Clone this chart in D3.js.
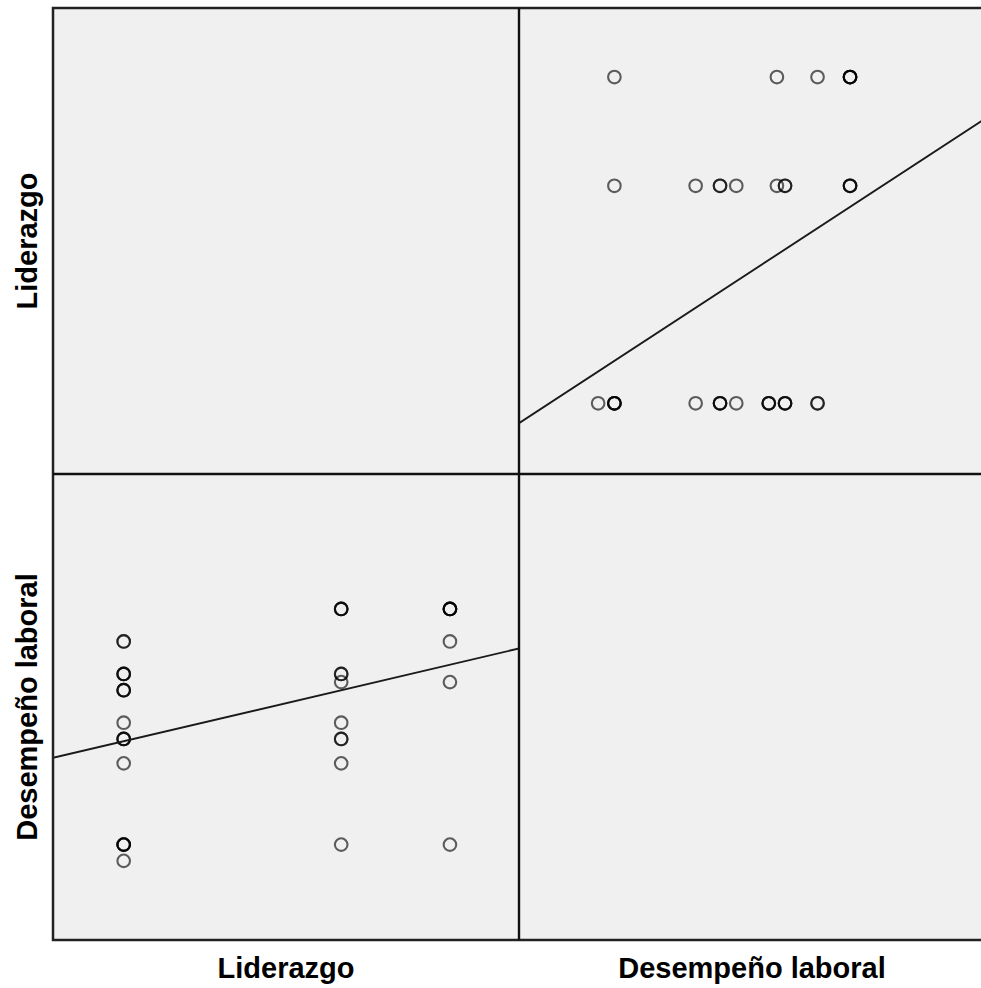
<!DOCTYPE html>
<html>
<head>
<meta charset="utf-8">
<script src="https://cdn.jsdelivr.net/npm/d3@7"></script>
<style>
body { margin: 0; background: #fff; }
svg { display: block; }
</style>
</head>
<body>
<svg id="chart" width="981" height="988"></svg>
<script>
// variables of the matrix, in row/column order
var variables = ["Liderazgo", "Desempeño laboral"];

// paired observations (one entry per person)
var liderazgo = [1, 1, 1, 1, 1, 1, 1, 1, 1, 1, 1, 1, 1, 1, 1, 1, 1, 1,
	3, 3, 3, 3, 3, 3, 3, 3, 3, 3, 3,
	4, 4, 4, 4, 4, 4, 4];
var desempeno = [56, 56, 52, 52, 52, 50, 50, 50, 46, 44, 44, 44, 41, 31, 31, 31, 31, 29,
	60, 60, 60, 52, 52, 51, 46, 44, 44, 41, 31,
	60, 60, 60, 60, 56, 51, 31];

// axis ranges of each variable
var liderazgoDomain = [0.35, 4.635];
var desempenoDomain = [19.26, 76.61];

var svg = d3.select("#chart"),
	margin = {top: 8, left: 53},
	size = 466;

var values = [liderazgo, desempeno];
var scales = [
	d3.scaleLinear().domain(liderazgoDomain).range([0, size]),
	d3.scaleLinear().domain(desempenoDomain).range([0, size])
];

function linreg(xs, ys) {
	var mx = d3.mean(xs), my = d3.mean(ys);
	var sxy = d3.sum(xs, (x, i) => (x - mx) * (ys[i] - my));
	var sxx = d3.sum(xs, x => (x - mx) * (x - mx));
	var b = sxy / sxx;
	return {a: my - b * mx, b: b};
}

svg.append("defs").append("clipPath")
	.attr("id", "cell-clip")
	.append("rect")
	.attr("width", size)
	.attr("height", size);

var cells = [];
variables.forEach((rv, i) => variables.forEach((cv, j) => cells.push({row: i, col: j})));

var cell = svg.selectAll("g.cell")
	.data(cells)
	.enter().append("g")
	.attr("class", "cell")
	.attr("transform", d => `translate(${margin.left + d.col * size},${margin.top + d.row * size})`);

cell.append("rect")
	.attr("width", size)
	.attr("height", size)
	.attr("fill", "#f0f0f0");

cell.filter(d => d.row != d.col).each(function(d) {
	var g = d3.select(this).append("g").attr("clip-path", "url(#cell-clip)");
	var xs = values[d.col], ys = values[d.row];
	var x = scales[d.col], y = scales[d.row];

	g.selectAll("circle")
		.data(xs.map((v, k) => [v, ys[k]]))
		.enter().append("circle")
		.attr("cx", p => x(p[0]))
		.attr("cy", p => size - y(p[1]))
		.attr("r", 6.3)
		.attr("fill", "none")
		.attr("stroke", "#000")
		.attr("stroke-opacity", 0.62)
		.attr("stroke-width", 2.1);

	var fit = linreg(xs, ys);
	var x0 = x.domain()[0], x1 = x.domain()[1];
	g.append("line")
		.attr("x1", x(x0))
		.attr("y1", size - y(fit.a + fit.b * x0))
		.attr("x2", x(x1))
		.attr("y2", size - y(fit.a + fit.b * x1))
		.attr("stroke", "#1a1a1a")
		.attr("stroke-width", 1.9);
});

// frame and separators
svg.append("rect")
	.attr("x", margin.left)
	.attr("y", margin.top)
	.attr("width", size * 2)
	.attr("height", size * 2)
	.attr("fill", "none")
	.attr("stroke", "#222")
	.attr("stroke-width", 2.5);

svg.append("line")
	.attr("x1", margin.left + size).attr("x2", margin.left + size)
	.attr("y1", margin.top).attr("y2", margin.top + size * 2)
	.attr("stroke", "#111").attr("stroke-width", 2.4);

svg.append("line")
	.attr("x1", margin.left).attr("x2", margin.left + size * 2)
	.attr("y1", margin.top + size).attr("y2", margin.top + size)
	.attr("stroke", "#111").attr("stroke-width", 2.4);

// variable labels
svg.selectAll("text.xlab")
	.data(variables)
	.enter().append("text")
	.attr("class", "xlab")
	.attr("x", (d, i) => margin.left + i * size + size / 2)
	.attr("y", margin.top + size * 2 + 38)
	.attr("text-anchor", "middle")
	.style("font-family", "'Liberation Sans', Arial, sans-serif")
	.style("font-weight", "bold")
	.style("font-size", "29px")
	.text(d => d);

svg.selectAll("text.ylab")
	.data(variables)
	.enter().append("text")
	.attr("class", "ylab")
	.attr("transform", (d, i) => `translate(37,${margin.top + i * size + size / 2}) rotate(-90)`)
	.attr("text-anchor", "middle")
	.style("font-family", "'Liberation Sans', Arial, sans-serif")
	.style("font-weight", "bold")
	.style("font-size", "29px")
	.text(d => d);
</script>
</body>
</html>
